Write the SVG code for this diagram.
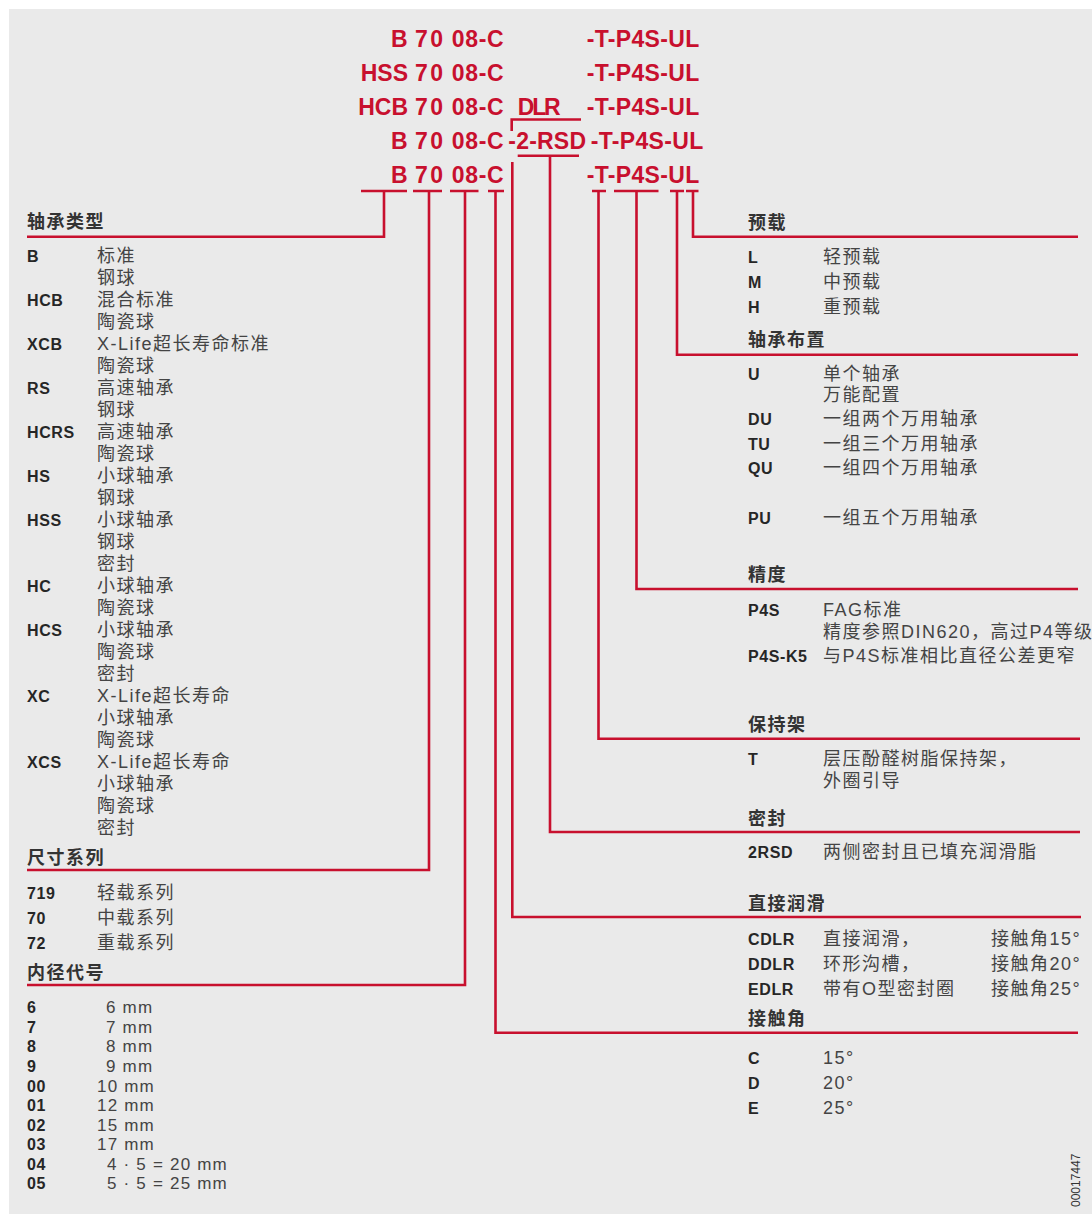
<svg xmlns="http://www.w3.org/2000/svg" width="1092" height="1214" viewBox="0 0 1092 1214">
<style>
.code{font-family:"Liberation Sans",Arial,sans-serif;font-weight:bold;font-size:23px;fill:#c8102e}
.h{font-family:"Noto Sans CJK SC","Liberation Sans",sans-serif;font-weight:bold;font-size:18px;letter-spacing:1.5px;fill:#333}
.k{font-family:"Liberation Sans",Arial,sans-serif;font-weight:bold;font-size:16px;letter-spacing:0.6px;fill:#262626}
.d{font-family:"Liberation Sans","Noto Sans CJK SC",sans-serif;font-size:18px;letter-spacing:1.5px;fill:#444}
.v{font-family:"Liberation Sans","Noto Sans CJK SC",sans-serif;font-size:17px;letter-spacing:1.2px;fill:#444}
.ln{fill:none;stroke:#c8102e;stroke-width:2.6}
.id{font-family:"Liberation Sans",Arial,sans-serif;font-size:12px;fill:#333}
</style>
<rect x="0" y="0" width="1092" height="1214" fill="#ffffff"/>
<rect x="9" y="9" width="1083" height="1205" fill="#eaeaea"/>

<g id="codes">
<text class="code" x="407.5" y="47" text-anchor="end">B</text>
<text class="code" x="415" y="47" textLength="28" lengthAdjust="spacing">70</text>
<text class="code" x="451.7" y="47" textLength="52" lengthAdjust="spacing">08-C</text>
<text class="code" x="586.7" y="47" textLength="112.6" lengthAdjust="spacing">-T-P4S-UL</text>

<text class="code" x="408" y="81" text-anchor="end">HSS</text>
<text class="code" x="415" y="81" textLength="28" lengthAdjust="spacing">70</text>
<text class="code" x="451.7" y="81" textLength="52" lengthAdjust="spacing">08-C</text>
<text class="code" x="586.7" y="81" textLength="112.6" lengthAdjust="spacing">-T-P4S-UL</text>

<text class="code" x="408" y="115" text-anchor="end">HCB</text>
<text class="code" x="415" y="115" textLength="28" lengthAdjust="spacing">70</text>
<text class="code" x="451.7" y="115" textLength="52" lengthAdjust="spacing">08-C</text>
<text class="code" x="517.7" y="115" textLength="43" lengthAdjust="spacing">DLR</text>
<text class="code" x="586.7" y="115" textLength="112.6" lengthAdjust="spacing">-T-P4S-UL</text>

<text class="code" x="407.5" y="149" text-anchor="end">B</text>
<text class="code" x="415" y="149" textLength="28" lengthAdjust="spacing">70</text>
<text class="code" x="451.7" y="149" textLength="52" lengthAdjust="spacing">08-C</text>
<text class="code" x="508.3" y="149" textLength="77.7" lengthAdjust="spacing">-2-RSD</text>
<text class="code" x="590.7" y="149" textLength="112.6" lengthAdjust="spacing">-T-P4S-UL</text>

<text class="code" x="407.5" y="183" text-anchor="end">B</text>
<text class="code" x="415" y="183" textLength="28" lengthAdjust="spacing">70</text>
<text class="code" x="451.7" y="183" textLength="52" lengthAdjust="spacing">08-C</text>
<text class="code" x="586.7" y="183" textLength="112.6" lengthAdjust="spacing">-T-P4S-UL</text>
</g>

<g id="connectors">
<path class="ln" d="M511.7,131 V119.5 H581"/>
<path class="ln" d="M517.7,155.7 H579 M550,155.7 V832 H1080"/>
<path class="ln" d="M512.3,162 V917 H1081"/>
<path class="ln" d="M361,191 H407 M384,191 V236.7 H27"/>
<path class="ln" d="M413,191 H442 M429,191 V870 H27"/>
<path class="ln" d="M450,191 H478.5 M465,191 V985 H27"/>
<path class="ln" d="M488,191 H504 M495.5,191 V1032.7 H1078"/>
<path class="ln" d="M592,191 H606 M598.5,191 V738.7 H1080"/>
<path class="ln" d="M614,191 H658.5 M636.5,191 V589 H1078"/>
<path class="ln" d="M670,191 H684 M677,191 V354.7 H1078"/>
<path class="ln" d="M686,191 H698.5 M693,191 V236.7 H1078"/>
</g>

<g id="bearing-type">
<text class="h" x="27" y="228">轴承类型</text>
<text class="k" x="27" y="262">B</text><text class="d" x="97" y="262">标准</text>
<text class="d" x="97" y="284">钢球</text>
<text class="k" x="27" y="306">HCB</text><text class="d" x="97" y="306">混合标准</text>
<text class="d" x="97" y="328">陶瓷球</text>
<text class="k" x="27" y="350">XCB</text><text class="d" x="97" y="350">X-Life超长寿命标准</text>
<text class="d" x="97" y="372">陶瓷球</text>
<text class="k" x="27" y="394">RS</text><text class="d" x="97" y="394">高速轴承</text>
<text class="d" x="97" y="416">钢球</text>
<text class="k" x="27" y="438">HCRS</text><text class="d" x="97" y="438">高速轴承</text>
<text class="d" x="97" y="460">陶瓷球</text>
<text class="k" x="27" y="482">HS</text><text class="d" x="97" y="482">小球轴承</text>
<text class="d" x="97" y="504">钢球</text>
<text class="k" x="27" y="526">HSS</text><text class="d" x="97" y="526">小球轴承</text>
<text class="d" x="97" y="548">钢球</text>
<text class="d" x="97" y="570">密封</text>
<text class="k" x="27" y="592">HC</text><text class="d" x="97" y="592">小球轴承</text>
<text class="d" x="97" y="614">陶瓷球</text>
<text class="k" x="27" y="636">HCS</text><text class="d" x="97" y="636">小球轴承</text>
<text class="d" x="97" y="658">陶瓷球</text>
<text class="d" x="97" y="680">密封</text>
<text class="k" x="27" y="702">XC</text><text class="d" x="97" y="702">X-Life超长寿命</text>
<text class="d" x="97" y="724">小球轴承</text>
<text class="d" x="97" y="746">陶瓷球</text>
<text class="k" x="27" y="768">XCS</text><text class="d" x="97" y="768">X-Life超长寿命</text>
<text class="d" x="97" y="790">小球轴承</text>
<text class="d" x="97" y="812">陶瓷球</text>
<text class="d" x="97" y="834">密封</text>
</g>

<g id="dimension-series">
<text class="h" x="27" y="864">尺寸系列</text>
<text class="k" x="27" y="899">719</text><text class="d" x="97" y="899">轻载系列</text>
<text class="k" x="27" y="923.5">70</text><text class="d" x="97" y="923.5">中载系列</text>
<text class="k" x="27" y="948.5">72</text><text class="d" x="97" y="948.5">重载系列</text>
</g>

<g id="bore-code">
<text class="h" x="27" y="979">内径代号</text>
<text class="k" x="27" y="1013.3">6</text><text class="v" x="106" y="1013.3">6 mm</text>
<text class="k" x="27" y="1032.7">7</text><text class="v" x="106" y="1032.7">7 mm</text>
<text class="k" x="27" y="1052.3">8</text><text class="v" x="106" y="1052.3">8 mm</text>
<text class="k" x="27" y="1071.7">9</text><text class="v" x="106" y="1071.7">9 mm</text>
<text class="k" x="27" y="1091.5">00</text><text class="v" x="97" y="1091.5">10 mm</text>
<text class="k" x="27" y="1111">01</text><text class="v" x="97" y="1111">12 mm</text>
<text class="k" x="27" y="1130.7">02</text><text class="v" x="97" y="1130.7">15 mm</text>
<text class="k" x="27" y="1150">03</text><text class="v" x="97" y="1150">17 mm</text>
<text class="k" x="27" y="1169.7">04</text><text class="v" x="107" y="1169.7">4 · 5 = 20 mm</text>
<text class="k" x="27" y="1189">05</text><text class="v" x="107" y="1189">5 · 5 = 25 mm</text>
</g>

<g id="preload">
<text class="h" x="748" y="229">预载</text>
<text class="k" x="748" y="263">L</text><text class="d" x="823" y="263">轻预载</text>
<text class="k" x="748" y="288">M</text><text class="d" x="823" y="288">中预载</text>
<text class="k" x="748" y="313">H</text><text class="d" x="823" y="313">重预载</text>
</g>

<g id="arrangement">
<text class="h" x="748" y="346">轴承布置</text>
<text class="k" x="748" y="380">U</text><text class="d" x="823" y="380">单个轴承</text>
<text class="d" x="823" y="401">万能配置</text>
<text class="k" x="748" y="425">DU</text><text class="d" x="823" y="425">一组两个万用轴承</text>
<text class="k" x="748" y="450">TU</text><text class="d" x="823" y="450">一组三个万用轴承</text>
<text class="k" x="748" y="474">QU</text><text class="d" x="823" y="474">一组四个万用轴承</text>
<text class="k" x="748" y="524">PU</text><text class="d" x="823" y="524">一组五个万用轴承</text>
</g>

<g id="precision">
<text class="h" x="748" y="581">精度</text>
<text class="k" x="748" y="616">P4S</text><text class="d" x="823" y="616">FAG标准</text>
<text class="d" x="823" y="638">精度参照DIN620，高过P4等级</text>
<text class="k" x="748" y="662">P4S-K5</text><text class="d" x="823" y="662">与P4S标准相比直径公差更窄</text>
</g>

<g id="cage">
<text class="h" x="748" y="731">保持架</text>
<text class="k" x="748" y="765">T</text><text class="d" x="823" y="765">层压酚醛树脂保持架，</text>
<text class="d" x="823" y="787">外圈引导</text>
</g>

<g id="seal">
<text class="h" x="748" y="825">密封</text>
<text class="k" x="748" y="858">2RSD</text><text class="d" x="823" y="858">两侧密封且已填充润滑脂</text>
</g>

<g id="direct-lubrication">
<text class="h" x="748" y="910">直接润滑</text>
<text class="k" x="748" y="945">CDLR</text><text class="d" x="823" y="945">直接润滑，</text><text class="d" x="991" y="945">接触角15°</text>
<text class="k" x="748" y="970">DDLR</text><text class="d" x="823" y="970">环形沟槽，</text><text class="d" x="991" y="970">接触角20°</text>
<text class="k" x="748" y="995">EDLR</text><text class="d" x="823" y="995">带有O型密封圈</text><text class="d" x="991" y="995">接触角25°</text>
</g>

<g id="contact-angle">
<text class="h" x="748" y="1025">接触角</text>
<text class="k" x="748" y="1064">C</text><text class="d" x="823" y="1064">15°</text>
<text class="k" x="748" y="1089">D</text><text class="d" x="823" y="1089">20°</text>
<text class="k" x="748" y="1114">E</text><text class="d" x="823" y="1114">25°</text>
</g>

<text class="id" transform="translate(1080,1207) rotate(-90)">00017447</text>
</svg>
